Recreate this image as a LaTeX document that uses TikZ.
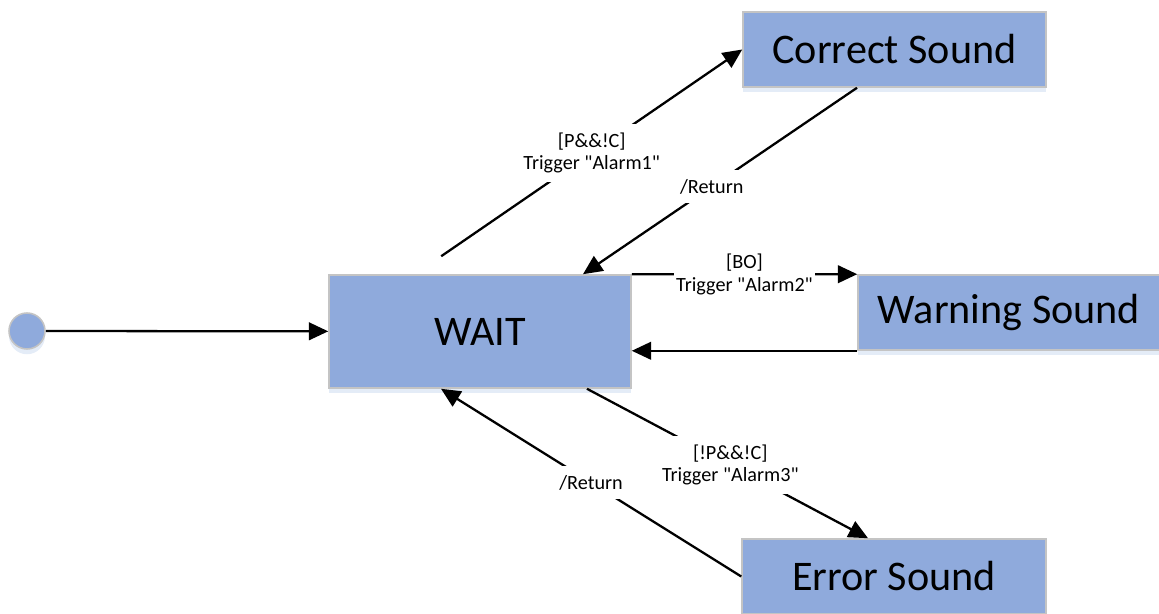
\documentclass[tikz,border=0pt]{standalone}
\usepackage{fontspec}
\setmainfont{Carlito}[Ligatures=TeXOff]
\usetikzlibrary{
	arrows.meta,
	shadows
}
\definecolor{statefill}{HTML}{8FAADC}
\definecolor{stateline}{HTML}{C4C4C4}
\definecolor{shadowblue}{HTML}{DDE7F5}

\begin{document}
\begin{tikzpicture}[
	x = 0.02cm, y = -0.02cm,
	> = {Triangle[length=11pt,width=10pt]},
	state/.style = {
		rectangle, draw=stateline, line width=0.9pt,
		fill=statefill,
		inner sep=0pt,
		font=\fontsize{24}{28}\selectfont,
		drop shadow={shadow xshift=0pt, shadow yshift=-3pt, fill=shadowblue, opacity=0.8}
	},
	initial/.style = {
		circle, draw=stateline, line width=0.9pt,
		fill=statefill, minimum size=0.72cm, inner sep=0pt,
		drop shadow={shadow xshift=0pt, shadow yshift=-3pt, fill=shadowblue, opacity=0.8}
	},
	guard/.style = {
		fill=white, align=center,
		inner xsep=1pt, inner ysep=5pt,
		font=\fontsize{11.5}{12.8}\selectfont
	},
	trans/.style = {->, line width=1.3pt}
]
	\useasboundingbox (0,0) rectangle (1159,614);

	\node [initial] (init) at (27,331) {};
	\node [state, minimum width=6.04cm, minimum height=2.26cm] (wait) at (480,331.5) {WAIT};
	\node [state, minimum width=6.06cm, minimum height=1.5cm] (correct) at (894.5,49.5) {Correct Sound};
	\node [state, minimum width=6.04cm, minimum height=1.5cm] (warning) at (1009,312.5) {Warning Sound};
	\node [state, minimum width=6.08cm, minimum height=1.5cm] (error) at (894,576.5) {Error Sound};

	\draw [trans] (init) -- (wait);
	\draw [trans] ([xshift=2.26cm,yshift=0.36cm]wait.north west) -- node [guard] {[P\&\&!C]\\Trigger "Alarm1"} (correct.west);
	\draw [trans] ([xshift=-0.75cm]correct.south) -- node [guard, pos=0.53] {/Return} ([xshift=2.06cm]wait.north);
	\draw [trans] (wait.north east) -- node [guard] {[BO]\\Trigger "Alarm2"} (warning.north west);
	\draw [trans] (warning.south west) -- (warning.south west -| wait.east);
	\draw [trans] ([xshift=2.14cm]wait.south) -- node [guard, pos=0.51] {[!P\&\&!C]\\Trigger "Alarm3"} ([xshift=-0.52cm]error.north);
	\draw [trans] (error.west) -- node [guard] {/Return} ([xshift=-0.78cm]wait.south);
\end{tikzpicture}
\end{document}
